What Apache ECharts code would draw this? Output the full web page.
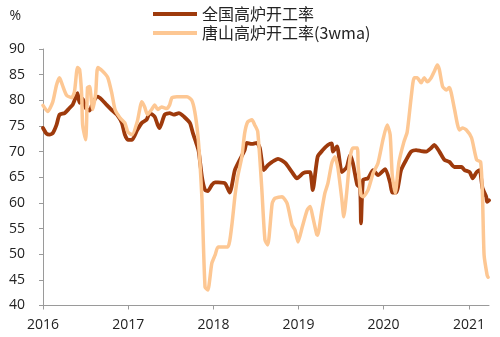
<!DOCTYPE html>
<html>
<head>
<meta charset="utf-8">
<script src="https://cdn.jsdelivr.net/npm/echarts@6/dist/echarts.min.js"></script>
<style>
  html, body { margin: 0; padding: 0; background: #fff; }
  #chart { width: 500px; height: 337px; }
</style>
</head>
<body>
<div id="chart"></div>
<script>
// Blast furnace utilisation rates, %
const seriesNames = ['全国高炉开工率', '唐山高炉开工率(3wma)'];
const yearTicks = ['2016-01-01', '2017-01-01', '2018-01-01', '2019-01-01', '2020-01-01', '2021-01-01'];
const dateStart = '2016-01-01';
const dateEnd = '2021-03-28';

// National rate
const natDates = [
  '2016-01-01','2016-01-16','2016-01-29','2016-02-12','2016-02-28','2016-03-12','2016-04-03','2016-04-24',
  '2016-05-07','2016-05-24','2016-05-28','2016-06-06','2016-06-19','2016-07-02','2016-07-19','2016-08-01',
  '2016-08-23','2016-09-10','2016-09-30','2016-10-22','2016-11-13','2016-12-04','2016-12-17','2016-12-30',
  '2017-01-17','2017-02-08','2017-02-28','2017-03-20','2017-04-03','2017-04-24','2017-05-07','2017-05-15',
  '2017-06-06','2017-06-27','2017-07-15','2017-08-06','2017-08-28','2017-09-22','2017-10-05','2017-10-22',
  '2017-10-30','2017-11-13','2017-11-26','2017-12-08','2017-12-25','2018-01-08','2018-01-21','2018-02-20',
  '2018-03-12','2018-04-03','2018-04-24','2018-05-15','2018-05-24','2018-06-15','2018-07-06','2018-07-19',
  '2018-08-05','2018-08-22','2018-09-10','2018-10-05','2018-11-05','2018-12-04','2018-12-25','2019-01-21',
  '2019-02-07','2019-02-20','2019-03-03','2019-03-24','2019-04-15','2019-05-07','2019-05-24','2019-05-28',
  '2019-06-15','2019-07-06','2019-07-27','2019-08-10','2019-08-22','2019-09-10','2019-09-22','2019-09-26',
  '2019-10-05','2019-10-26','2019-11-17','2019-12-08','2020-01-08','2020-01-29','2020-02-07','2020-02-24',
  '2020-03-16','2020-04-07','2020-04-28','2020-05-19','2020-06-10','2020-07-02','2020-07-23','2020-08-05',
  '2020-08-27','2020-09-18','2020-10-09','2020-10-30','2020-11-30','2020-12-13','2021-01-04','2021-01-17',
  '2021-02-03','2021-02-16','2021-02-28','2021-03-16','2021-03-20','2021-03-28'
];
const natValues = [
  74.6, 73.5, 73.3, 73.6, 75.2, 77.2, 77.5, 78.5,
  79.1, 81.0, 81.4, 79.5, 80.3, 78.5, 78.0, 79.5,
  80.7, 80.1, 79.1, 78.1, 77.2, 75.6, 73.3, 72.3,
  72.3, 74.2, 75.6, 76.2, 77.5, 76.8, 75.2, 74.6,
  77.2, 77.5, 77.2, 77.5, 76.8, 75.6, 73.6, 71.3,
  70.0, 65.0, 62.5, 62.3, 63.5, 64.0, 64.0, 63.8,
  62.0, 66.4, 68.4, 70.3, 71.7, 71.5, 71.7, 70.7,
  66.4, 67.3, 68.0, 68.6, 67.8, 66.0, 64.8, 65.8,
  66.0, 66.0, 62.5, 69.0, 70.3, 71.3, 71.6, 70.0,
  71.0, 66.0, 67.0, 69.3, 67.8, 63.5, 63.0, 56.0,
  64.5, 64.8, 66.4, 65.4, 66.6, 63.9, 62.0, 62.0,
  66.4, 68.4, 70.0, 70.3, 70.1, 70.0, 70.7, 71.3,
  70.0, 68.4, 68.0, 67.0, 67.0, 66.4, 66.0, 64.8,
  66.0, 66.4, 62.9, 61.2, 60.2, 60.5
];

// Tangshan rate, 3-week moving average
const tsDates = [
  '2016-01-01','2016-01-21','2016-02-12','2016-02-28','2016-03-12','2016-03-24','2016-04-11','2016-05-03',
  '2016-05-15','2016-05-28','2016-06-06','2016-06-15','2016-06-19','2016-07-02','2016-07-06','2016-07-10',
  '2016-07-19','2016-07-27','2016-08-01','2016-08-14','2016-08-23','2016-09-14','2016-10-05','2016-10-22',
  '2016-11-05','2016-11-26','2016-12-17','2016-12-30','2017-01-17','2017-02-08','2017-02-28','2017-03-12',
  '2017-03-24','2017-04-11','2017-04-24','2017-05-07','2017-05-24','2017-06-15','2017-06-27','2017-07-07',
  '2017-07-28','2017-09-10','2017-09-30','2017-10-13','2017-10-26','2017-11-04','2017-11-13','2017-11-26',
  '2017-12-08','2017-12-25','2018-01-08','2018-01-21','2018-03-03','2018-03-20','2018-04-03','2018-04-15',
  '2018-05-03','2018-05-15','2018-05-28','2018-06-15','2018-06-27','2018-07-10','2018-07-27','2018-08-10',
  '2018-08-22','2018-09-10','2018-09-22','2018-10-22','2018-11-13','2018-12-04','2018-12-17','2018-12-30',
  '2019-01-17','2019-02-07','2019-02-20','2019-03-03','2019-03-20','2019-03-24','2019-04-11','2019-04-24',
  '2019-05-07','2019-05-24','2019-06-06','2019-06-19','2019-07-06','2019-07-14','2019-07-27','2019-08-10',
  '2019-08-22','2019-09-10','2019-09-14','2019-09-26','2019-10-05','2019-10-26','2019-11-17','2019-12-08',
  '2019-12-29','2020-01-16','2020-01-29','2020-02-07','2020-02-20','2020-03-07','2020-03-28','2020-04-11',
  '2020-04-28','2020-05-11','2020-05-24','2020-06-10','2020-06-23','2020-07-06','2020-07-23','2020-08-05',
  '2020-08-18','2020-08-27','2020-09-10','2020-09-26','2020-10-09','2020-10-30','2020-11-21','2020-12-04',
  '2020-12-21','2021-01-12','2021-02-03','2021-02-20','2021-02-28','2021-03-07','2021-03-20','2021-03-24'
];
const tsValues = [
  79.0, 77.8, 79.7, 83.0, 84.4, 83.0, 81.0, 80.5,
  81.7, 86.4, 86.0, 81.0, 75.2, 72.3, 75.8, 82.5,
  82.7, 79.7, 78.2, 81.4, 86.4, 85.6, 84.4, 81.4,
  78.2, 76.6, 75.6, 73.8, 73.3, 75.8, 79.7, 78.7,
  77.2, 78.2, 79.1, 78.2, 78.7, 78.4, 79.1, 80.5,
  80.7, 80.7, 80.0, 77.8, 73.3, 68.0, 60.6, 43.6,
  43.0, 48.2, 49.8, 51.4, 51.4, 55.3, 61.2, 65.1,
  69.0, 73.6, 75.8, 76.2, 75.2, 73.9, 63.1, 52.8,
  51.8, 59.9, 60.9, 61.2, 59.9, 55.7, 54.7, 52.4,
  55.3, 58.6, 59.3, 57.3, 53.9, 53.7, 58.6, 61.9,
  63.8, 67.8, 69.0, 66.8, 60.6, 57.3, 62.2, 68.8,
  70.7, 70.7, 67.0, 61.5, 61.2, 62.5, 65.8, 67.8,
  72.3, 75.2, 73.3, 65.4, 61.9, 68.0, 71.9, 73.8,
  80.5, 84.4, 84.4, 83.4, 84.4, 83.6, 84.4, 85.6,
  86.9, 86.0, 82.7, 82.0, 82.5, 78.5, 74.2, 74.6,
  74.2, 72.7, 68.4, 68.0, 61.5, 49.8, 45.9, 45.5
];

const colors = ['#9e3a0c', '#fdc793'];
const axisColor = '#9a9a9a';
const textColor = '#222';
const numFont = '"Open Sans", "Noto Sans", sans-serif';
const cjkFont = '"Noto Sans CJK SC", sans-serif';

// dates are placed on a numeric (UTC millisecond) axis
const toMs = (d) => Date.parse(d);
const yearTickMs = yearTicks.map(toMs);

const chart = echarts.init(document.getElementById('chart'), null, { renderer: 'canvas' });

chart.setOption({
  animation: false,
  backgroundColor: '#fff',
  color: colors,
  legend: {
    orient: 'vertical',
    left: 148,
    top: 1,
    itemWidth: 44,
    itemHeight: 4,
    itemGap: 3,
    icon: 'rect',
    textStyle: { fontFamily: cjkFont, fontSize: 16, color: textColor, lineHeight: 16 },
    data: seriesNames
  },
  grid: { left: 43, right: 11, top: 49, bottom: 31.5, containLabel: false },
  xAxis: {
    type: 'value',
    min: toMs(dateStart),
    max: toMs(dateEnd),
    axisLine: { show: true, onZero: false, lineStyle: { color: axisColor, width: 1 } },
    axisTick: { show: true, length: 4, inside: false, customValues: yearTickMs, lineStyle: { color: axisColor } },
    axisLabel: {
      customValues: yearTickMs,
      margin: 13,
      fontFamily: numFont,
      fontSize: 14,
      color: textColor,
      formatter: (v) => String(new Date(v).getUTCFullYear())
    },
    splitLine: { show: false }
  },
  yAxis: {
    type: 'value',
    min: 40,
    max: 90,
    interval: 5,
    name: '%',
    nameLocation: 'end',
    nameGap: 26,
    nameTextStyle: { fontFamily: numFont, fontSize: 14, color: textColor, align: 'right', padding: [0, 22, 0, 0] },
    axisLine: { show: true, lineStyle: { color: axisColor, width: 1 } },
    axisTick: { show: true, length: 4, inside: false, lineStyle: { color: axisColor } },
    axisLabel: { margin: 18, fontFamily: numFont, fontSize: 14, color: textColor },
    splitLine: { show: false }
  },
  series: [
    {
      name: seriesNames[0],
      type: 'line',
      data: natDates.map((d, i) => [toMs(d), natValues[i]]),
      showSymbol: false,
      symbol: 'none',
      smooth: 0.2,
      lineStyle: { width: 3.8, color: colors[0], join: 'round', cap: 'round' }
    },
    {
      name: seriesNames[1],
      type: 'line',
      data: tsDates.map((d, i) => [toMs(d), tsValues[i]]),
      showSymbol: false,
      symbol: 'none',
      smooth: 0.2,
      lineStyle: { width: 3.5, color: colors[1], join: 'round', cap: 'round' }
    }
  ]
});
</script>
</body>
</html>
